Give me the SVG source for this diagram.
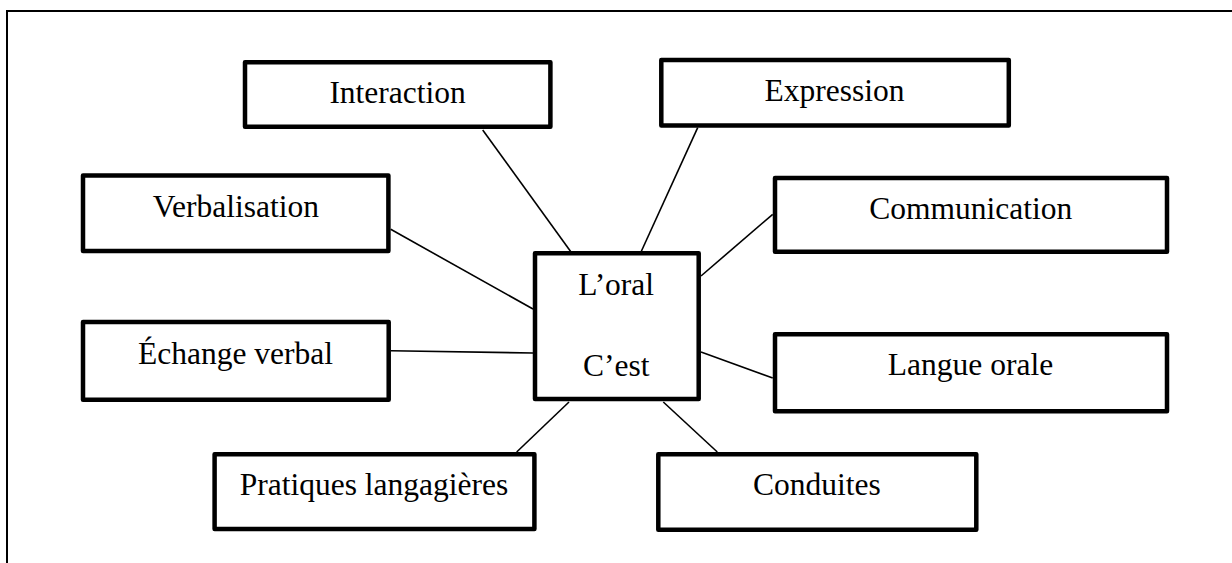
<svg xmlns="http://www.w3.org/2000/svg" width="1232" height="563" viewBox="0 0 1232 563">
<style>
.box{fill:#fff;stroke:#000;stroke-width:4.5;stroke-linejoin:round}
.lbl{font-family:"Liberation Serif","Times New Roman",serif;font-size:31.5px;fill:#000;text-anchor:middle}
.conn line{stroke:#000;stroke-width:1.6}
</style>
<rect width="1232" height="563" fill="#fff"/>
<path d="M7 600 V11 H1240" fill="none" stroke="#000" stroke-width="2"/>
<g class="conn" id="connectors">
<line x1="482.7" y1="130" x2="571" y2="252"/>
<line x1="697.7" y1="127.7" x2="641" y2="252"/>
<line x1="772.7" y1="214.3" x2="701" y2="276"/>
<line x1="390.7" y1="229.3" x2="533" y2="309"/>
<line x1="391" y1="350.7" x2="533" y2="353"/>
<line x1="701" y1="352" x2="772.7" y2="378"/>
<line x1="569" y1="402" x2="516.7" y2="452"/>
<line x1="663.3" y1="402" x2="717.3" y2="452"/>
</g>
<g id="interaction"><rect class="box" x="245" y="62.3" width="305.4" height="64.5"/><text class="lbl" x="397.6" y="103.3">Interaction</text></g>
<g id="expression"><rect class="box" x="661.3" y="60" width="347.5" height="65.5"/><text class="lbl" x="834.5" y="101">Expression</text></g>
<g id="verbalisation"><rect class="box" x="83" y="175.6" width="305.4" height="75.5"/><text class="lbl" x="235.8" y="217.3">Verbalisation</text></g>
<g id="communication"><rect class="box" x="775" y="178" width="392" height="73.8"/><text class="lbl" x="970.7" y="219">Communication</text></g>
<g id="oral"><rect class="box" x="535" y="253.3" width="163.7" height="145.8"/><text class="lbl" x="616.2" y="294.7">L’oral</text><text class="lbl" x="616.3" y="376.3">C’est</text></g>
<g id="echange"><rect class="box" x="83" y="322" width="305.7" height="77.7"/><text class="lbl" x="235.5" y="364">Échange verbal</text></g>
<g id="langue"><rect class="box" x="775" y="334.3" width="392" height="77"/><text class="lbl" x="970.5" y="374.7">Langue orale</text></g>
<g id="pratiques"><rect class="box" x="214.6" y="454.3" width="319.8" height="74.7"/><text class="lbl" x="374" y="494.7">Pratiques langagières</text></g>
<g id="conduites"><rect class="box" x="658.3" y="454.3" width="318" height="75.4"/><text class="lbl" x="817" y="494.7">Conduites</text></g>
</svg>
